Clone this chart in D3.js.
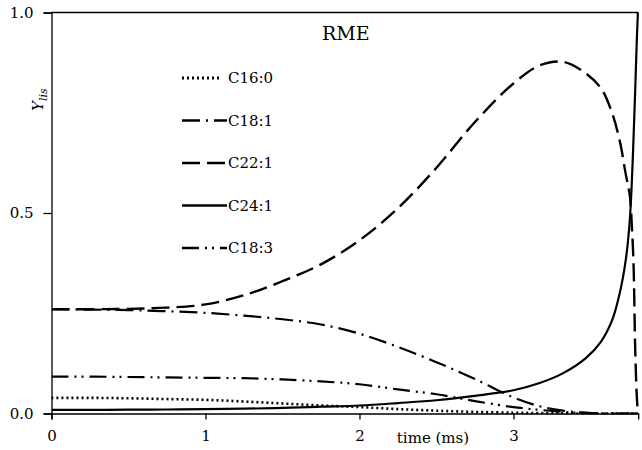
<!DOCTYPE html>
<html>
<head>
<meta charset="utf-8">
<script src="https://cdn.jsdelivr.net/npm/d3@7"></script>
<style>
  body { margin: 0; background: #fff; }
  svg { display: block; }
  text { font-family: "DejaVu Serif", serif; fill: #000; }
</style>
</head>
<body>
<div id="chart"></div>
<script>
// time grid (ms), denser near the end where things change fast
const time = [0, 0.25, 0.5, 0.75, 1, 1.25, 1.5, 1.75, 2, 2.25, 2.5, 2.75, 3,
  3.17, 3.32, 3.47, 3.57, 3.64, 3.69, 3.73, 3.755, 3.77, 3.78, 3.79, 3.80, 3.808];

// liquid mole fractions
const c160 = [0.039, 0.039, 0.038, 0.036, 0.034, 0.030, 0.025, 0.020, 0.016, 0.011, 0.007, 0.004, 0.002,
  0.001, 0.0005, 0, 0, 0, 0, 0, 0, 0, 0, 0, 0, 0];
const c181 = [0.260, 0.259, 0.258, 0.255, 0.251, 0.244, 0.235, 0.222, 0.199, 0.166, 0.128, 0.086, 0.040,
  0.018, 0.007, 0.002, 0, 0, 0, 0, 0, 0, 0, 0, 0, 0];
const c221 = [0.260, 0.260, 0.261, 0.264, 0.272, 0.295, 0.330, 0.372, 0.432, 0.512, 0.613, 0.727, 0.823,
  0.868, 0.877, 0.848, 0.810, 0.750, 0.680, 0.595, 0.545, 0.458, 0.370, 0.170, 0.050, 0];
const c241 = [0.009, 0.009, 0.0095, 0.010, 0.011, 0.012, 0.014, 0.017, 0.020, 0.026, 0.033, 0.044, 0.058,
  0.076, 0.100, 0.138, 0.180, 0.232, 0.300, 0.385, 0.480, 0.590, 0.690, 0.800, 0.920, 1.0];
const c183 = [0.092, 0.092, 0.091, 0.090, 0.089, 0.088, 0.085, 0.080, 0.073, 0.060, 0.048, 0.031, 0.016,
  0.009, 0.004, 0.001, 0, 0, 0, 0, 0, 0, 0, 0, 0, 0];

const xTicks = [0, 1, 2, 3];
const yTicks = [0, 0.5, 1];

const series = [
  { name: 'C16:0', values: c160, dash: '2,3', width: 2.6 },
  { name: 'C18:1', values: c181, dash: '18,6,2,6', width: 2.2 },
  { name: 'C22:1', values: c221, dash: '18,7', width: 2.4 },
  { name: 'C24:1', values: c241, dash: null, width: 2.2 },
  { name: 'C18:3', values: c183, dash: '17,6,2,5,2,6', width: 2.2 }
];

const width = 642, height = 450;

const x = d3.scaleLinear().domain([0, 3.81]).range([51.5, 638.2]);
const y = d3.scaleLinear().domain([0, 1]).range([413.5, 12.5]);

const svg = d3.select('#chart').append('svg')
    .attr('width', width)
    .attr('height', height);

// top border
svg.append('line')
    .attr('x1', x(0)).attr('x2', x(3.81))
    .attr('y1', y(1)).attr('y2', y(1))
    .attr('stroke', '#000').attr('stroke-width', 1.3);

// y axis
const yAxis = svg.append('g')
    .attr('transform', `translate(${x(0)},0)`)
    .call(d3.axisLeft(y).tickValues(yTicks).tickFormat(d3.format('.1f')).tickSize(8).tickPadding(10));
yAxis.selectAll('text').style('font-size', '15px').attr('font-family', null);

// x axis
const xAxis = svg.append('g')
    .attr('transform', `translate(0,${y(0)})`)
    .call(d3.axisBottom(x).tickValues(xTicks).tickFormat(d3.format('d')).tickSize(6).tickPadding(11));
xAxis.selectAll('text').style('font-size', '15px').attr('font-family', null);

svg.selectAll('.domain, .tick line').attr('stroke', '#000').attr('stroke-width', 1.3);

// axis labels
svg.append('text')
    .attr('x', 433)
    .attr('y', 443)
    .attr('text-anchor', 'middle')
    .style('font-size', '15px')
    .text('time (ms)');

const ylab = svg.append('text')
    .attr('transform', 'translate(43,111) rotate(-90)')
    .style('font-style', 'italic');
ylab.append('tspan').style('font-size', '15px').text('Y');
ylab.append('tspan').style('font-size', '11px').attr('dy', 4).text('lis');

svg.append('text')
    .attr('x', 322)
    .attr('y', 40)
    .style('font-size', '19px')
    .text('RME');

// curves (clipped to the plot area so the spline never dips under the axis)
svg.append('clipPath').attr('id', 'plot')
  .append('rect')
    .attr('x', x(0)).attr('y', y(1) - 2)
    .attr('width', x(3.81) - x(0) + 2)
    .attr('height', y(0) - y(1) + 3);

const line = d3.line()
    .x((d, i) => x(time[i]))
    .y(d => y(d))
    .curve(d3.curveCatmullRom.alpha(0.5));

svg.append('g')
    .attr('clip-path', 'url(#plot)')
  .selectAll('path')
  .data(series)
  .join('path')
    .attr('d', d => line(d.values))
    .attr('fill', 'none')
    .attr('stroke', '#000')
    .attr('stroke-width', d => d.width)
    .attr('stroke-dasharray', d => d.dash);

// legend
const legend = svg.append('g');
const legY = (d, i) => 78 + i * 42.5;

legend.selectAll('line')
  .data(series)
  .join('line')
    .attr('x1', 182)
    .attr('x2', d => d.name === 'C16:0' ? 222 : 227)
    .attr('y1', legY)
    .attr('y2', legY)
    .attr('stroke', '#000')
    .attr('stroke-width', d => d.width + 0.3)
    .attr('stroke-dasharray', d => d.dash);

legend.selectAll('text')
  .data(series)
  .join('text')
    .attr('x', 228)
    .attr('y', (d, i) => legY(d, i) + 5)
    .style('font-size', '15px')
    .text(d => d.name);
</script>
</body>
</html>
